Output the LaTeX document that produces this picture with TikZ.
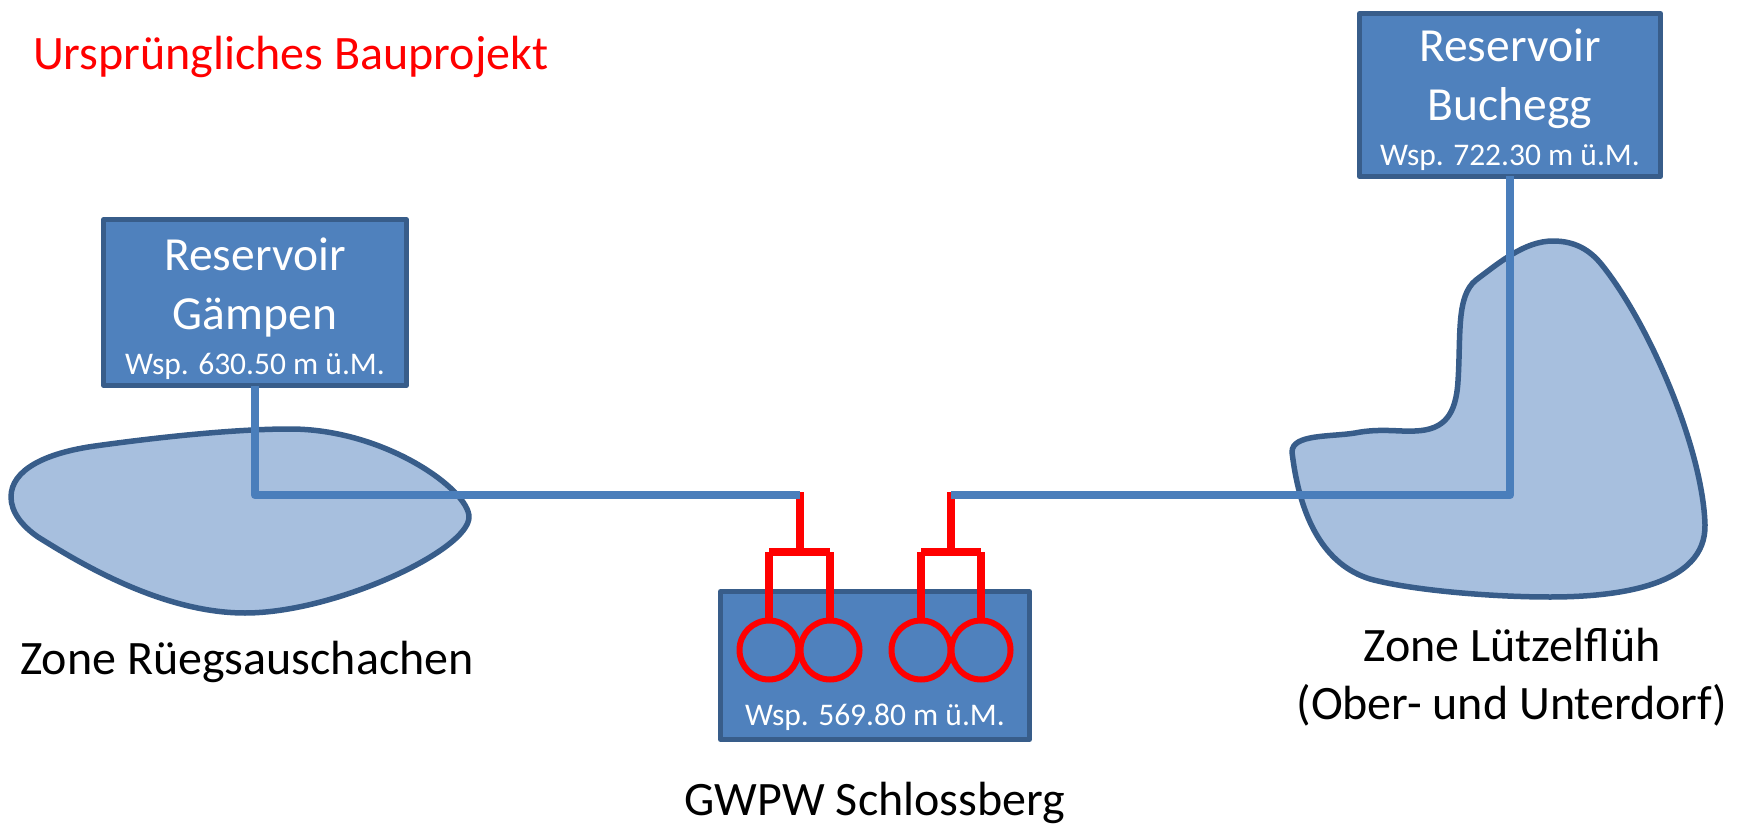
\documentclass[tikz,border=0pt]{standalone}
\usepackage{fontspec}
\setmainfont{Carlito}
\definecolor{boxfill}{HTML}{4F81BD}
\definecolor{boxline}{HTML}{385D8A}
\definecolor{zonefill}{HTML}{A7BFDE}
\definecolor{wireblue}{HTML}{4A7EBB}
\definecolor{pumpred}{HTML}{FF0000}
\tikzset{
  boxnode/.style={draw=boxline,fill=boxfill,line width=5pt,line join=round,rectangle,inner sep=0pt,outer sep=0pt,text=white,align=center,font=\fontsize{47.5}{59}\selectfont},
  zone/.style={draw=boxline,fill=zonefill,line width=5.5pt,line join=round},
  bluewire/.style={draw=wireblue,line width=8.5pt,line join=round},
  redwire/.style={draw=pumpred,line width=8pt},
  pump/.style={draw=pumpred,line width=6pt,circle,inner sep=0pt,outer sep=0pt,minimum size=59pt},
  lab/.style={inner sep=0pt,outer sep=0pt,anchor=base,text=black,font=\fontsize{48}{58}\selectfont,align=center},
}
\newcommand{\wsp}[1]{{\fontsize{31.5}{32}\selectfont Wsp. #1 m ü.M.}}
\begin{document}
\begin{tikzpicture}[x=1pt,y=-1pt]
\useasboundingbox (0,0) rectangle (1745,826);
% zones
\draw[zone] (11,497) .. controls (11,470) and (45,453) .. (95,446)
  .. controls (160,437) and (235,429) .. (290,429)
  .. controls (385,429) and (469,490) .. (469,517)
  .. controls (469,550) and (335,613) .. (245,613)
  .. controls (160,613) and (75,560) .. (38,537)
  .. controls (22,526) and (11,512) .. (11,497) -- cycle;
\draw[zone] (1292,452) .. controls (1292,434) and (1330,437) .. (1355,433)
  .. controls (1380,428) and (1400,432) .. (1415,431)
  .. controls (1445,430) and (1456,414) .. (1458,381)
  .. controls (1461,335) and (1456,296) .. (1476,280)
  .. controls (1500,262) and (1525,241) .. (1553,241)
  .. controls (1575,241) and (1590,250) .. (1602,265)
  .. controls (1650,325) and (1703,450) .. (1705,525)
  .. controls (1706,585) and (1620,597) .. (1550,597)
  .. controls (1490,597) and (1410,590) .. (1370,579)
  .. controls (1325,565) and (1300,520) .. (1292,452) -- cycle;
% boxes
\node[boxnode,minimum width=302.5pt,minimum height=166pt] (gaempen) at (255,302.5)
  {\rule{0pt}{46pt}Reservoir\\G\"ampen\\[-14pt]\wsp{630.50}};
\node[boxnode,minimum width=301pt,minimum height=163pt] (buchegg) at (1510,95)
  {\rule{0pt}{42pt}Reservoir\\Buchegg\\[-14pt]\wsp{722.30}};
\node[boxnode,minimum width=309pt,minimum height=148pt] (werk) at (875,665.5) {};
\node[text=white,inner sep=0pt,anchor=base] (werktext) at (875,725) {\wsp{569.80}};
% pumps
\node[pump] (p1) at (769,650) {};
\node[pump] (p2) at (830,650) {};
\node[pump] (p3) at (921,650) {};
\node[pump] (p4) at (981,650) {};
\coordinate (t1) at (799.5,552);
\coordinate (t2) at (951,552);
\coordinate (jl) at (799.5,495);
\coordinate (jr) at (951,495);
\coordinate (jlt) at (799.5,492);
\coordinate (jrt) at (951,492);
% red pipes
\draw[redwire] (jlt) -- (t1);
\draw[redwire] (jrt) -- (t2);
\draw[redwire] (p1.north|-t1) -- (p2.north|-t1);
\draw[redwire] (p3.north|-t2) -- (p4.north|-t2);
\draw[redwire] (p1.north) -- (p1.north|-t1);
\draw[redwire] (p2.north) -- (p2.north|-t1);
\draw[redwire] (p3.north) -- (p3.north|-t2);
\draw[redwire] (p4.north) -- (p4.north|-t2);
% blue pipes
\draw[bluewire] (gaempen.south) |- (jl);
\draw[bluewire] (buchegg.south) |- (jr);
% labels
\node[lab,anchor=base west,text=pumpred] (title) at (33,70) {Ursprüngliches Bauprojekt};
\node[lab] (zr) at (247,674) {Zone Rüegsauschachen};
\node[lab] (gw) at (875,815) {GWPW Schlossberg};
\node[lab] (zl) at (1512,661) {Zone Lützelflüh};
\node[lab] (zl2) at (1512,719) {(Ober- und Unterdorf)};
\end{tikzpicture}
\end{document}
